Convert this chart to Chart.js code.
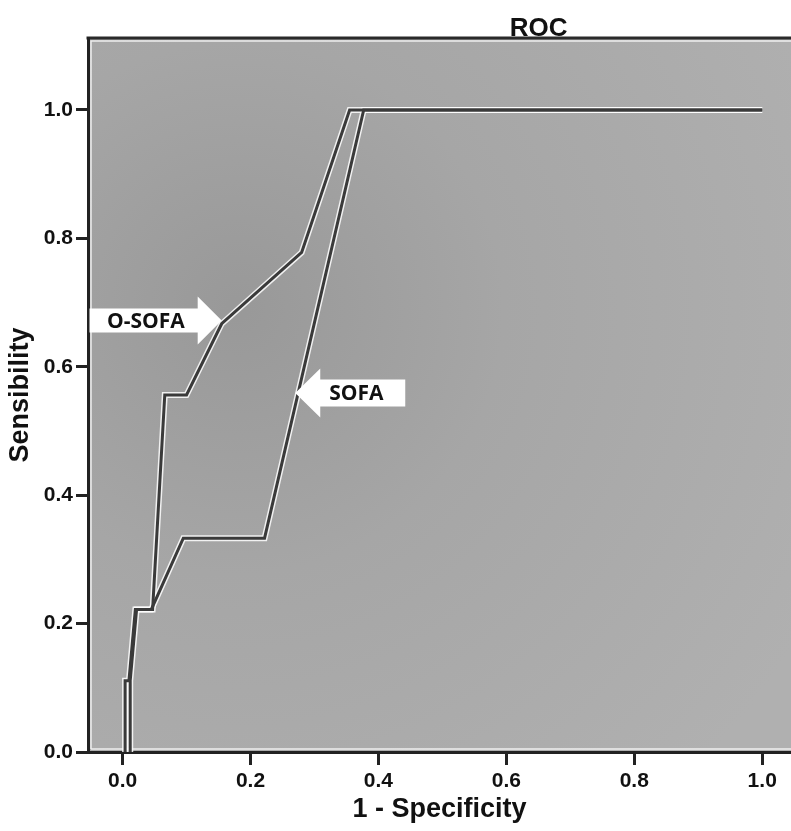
<!DOCTYPE html>
<html>
<head>
<meta charset="utf-8">
<title>ROC</title>
<script src="https://cdn.jsdelivr.net/npm/chart.js@4.4.1/dist/chart.umd.min.js"></script>
<style>
  html, body { margin: 0; padding: 0; background: #fff; overflow: hidden; }
  #roc { display: block; }
</style>
</head>
<body>
<canvas id="roc" width="791" height="831"></canvas>
<script>
// values
const osofaX = [0.004, 0.004, 0.010, 0.020, 0.047, 0.066, 0.100, 0.155, 0.280, 0.355, 1.0];
const osofaY = [0.000, 0.111, 0.111, 0.222, 0.222, 0.556, 0.556, 0.667, 0.778, 1.000, 1.0];
const sofaX  = [0.012, 0.012, 0.022, 0.045, 0.095, 0.222, 0.377, 1.0];
const sofaY  = [0.000, 0.111, 0.222, 0.222, 0.333, 0.333, 1.000, 1.0];

const xTicks = [0, 0.2, 0.4, 0.6, 0.8, 1.0];
const yTicks = [0, 0.2, 0.4, 0.6, 0.8, 1.0];

// arrow labels pointing at the curves
const arrowLabels = ["O-SOFA", "SOFA"];
const arrowX = [0.155, 0.270];
const arrowY = [0.672, 0.559];
const arrowDir = ["right", "left"];

const zip = (xs, ys) => xs.map((v, i) => ({ x: v, y: ys[i] }));

const tickFont = { family: "'Liberation Sans', Arial, sans-serif", size: 21, weight: "bold" };
const titleFont = { family: "'Liberation Sans', Arial, sans-serif", size: 27, weight: "bold" };

// gray shaded plot area + top frame line
const plotBackground = {
  id: "plotBackground",
  beforeDraw(chart) {
    const { ctx, chartArea: a } = chart;
    ctx.save();
    const cx = a.left + 150, cy = a.top + 270;
    const g = ctx.createRadialGradient(cx, cy, 10, cx, cy, 650);
    g.addColorStop(0, "#999999");
    g.addColorStop(0.4, "#a6a6a6");
    g.addColorStop(1, "#b0b0b0");
    ctx.fillStyle = g;
    ctx.fillRect(a.left, a.top, a.right - a.left, a.bottom - a.top);

    // thin light inner edge
    ctx.strokeStyle = "rgba(255,255,255,0.8)";
    ctx.lineWidth = 1.5;
    ctx.beginPath();
    ctx.moveTo(a.left + 3, a.bottom - 3);
    ctx.lineTo(a.left + 3, a.top + 3);
    ctx.lineTo(a.right, a.top + 3);
    ctx.moveTo(a.left + 3, a.bottom - 3);
    ctx.lineTo(a.right, a.bottom - 3);
    ctx.stroke();

    ctx.strokeStyle = "#2a2a2a";
    ctx.lineWidth = 3;
    ctx.beginPath();
    ctx.moveTo(a.left - 1.5, a.top);
    ctx.lineTo(a.right, a.top);
    ctx.stroke();

    // chart title
    ctx.fillStyle = "#111";
    ctx.font = "bold 26px 'Liberation Sans', Arial, sans-serif";
    ctx.textAlign = "center";
    ctx.textBaseline = "alphabetic";
    ctx.fillText("ROC", a.left + (a.right - a.left) * 0.641, a.top - 2);
    ctx.restore();
  }
};

const arrowNotes = {
  id: "arrowNotes",
  afterDatasetsDraw(chart) {
    const { ctx, chartArea: a, scales: { x, y } } = chart;
    ctx.save();
    arrowLabels.forEach((txt, i) => {
      const tx = x.getPixelForValue(arrowX[i]);
      const ty = y.getPixelForValue(arrowY[i]);
      ctx.fillStyle = "#fff";
      ctx.beginPath();
      if (arrowDir[i] === "right") {
        const head = 24, bodyH = 12, headH = 24;
        const bx = tx - head;
        ctx.moveTo(tx, ty);
        ctx.lineTo(bx, ty - headH);
        ctx.lineTo(bx, ty - bodyH);
        ctx.lineTo(a.left + 1.5, ty - bodyH);
        ctx.lineTo(a.left + 1.5, ty + bodyH);
        ctx.lineTo(bx, ty + bodyH);
        ctx.lineTo(bx, ty + headH);
        ctx.closePath();
        ctx.fill();
        ctx.fillStyle = "#111";
        ctx.font = "bold 21px 'Open Sans', sans-serif";
        ctx.textAlign = "left";
        ctx.textBaseline = "middle";
        ctx.fillText(txt, a.left + 19, ty + 1);
      } else {
        const head = 25, bodyH = 13.5, headH = 24.5, body = 85;
        const bx = tx + head;
        ctx.moveTo(tx, ty);
        ctx.lineTo(bx, ty - headH);
        ctx.lineTo(bx, ty - bodyH);
        ctx.lineTo(bx + body, ty - bodyH);
        ctx.lineTo(bx + body, ty + bodyH);
        ctx.lineTo(bx, ty + bodyH);
        ctx.lineTo(bx, ty + headH);
        ctx.closePath();
        ctx.fill();
        ctx.fillStyle = "#111";
        ctx.font = "bold 21px 'Open Sans', sans-serif";
        ctx.textAlign = "left";
        ctx.textBaseline = "middle";
        ctx.fillText(txt, bx + 9, ty + 1);
      }
    });
    ctx.restore();
  }
};

const lineStyle = (data, color, width, order) => ({
  data: data,
  borderColor: color,
  borderWidth: width,
  pointRadius: 0,
  tension: 0,
  fill: false,
  borderJoinStyle: "miter",
  borderCapStyle: "butt",
  order: order
});

new Chart(document.getElementById("roc"), {
  type: "line",
  data: {
    datasets: [
      Object.assign(lineStyle(zip(osofaX, osofaY), "#3a3a3a", 3, 1), { label: "O-SOFA" }),
      Object.assign(lineStyle(zip(sofaX, sofaY), "#3a3a3a", 3, 1), { label: "SOFA" }),
      Object.assign(lineStyle(zip(osofaX, osofaY), "rgba(255,255,255,0.85)", 6, 2), { label: "halo1" }),
      Object.assign(lineStyle(zip(sofaX, sofaY), "rgba(255,255,255,0.85)", 6, 2), { label: "halo2" })
    ]
  },
  options: {
    responsive: false,
    animation: false,
    layout: { padding: { top: 38, right: 0, bottom: 0, left: 0 } },
    plugins: {
      legend: { display: false },
      tooltip: { enabled: false },
      title: { display: false }
    },
    scales: {
      x: {
        type: "linear",
        min: -0.054,
        max: 1.045,
        afterBuildTicks: s => { s.ticks = xTicks.map(v => ({ value: v })); },
        afterFit: s => { s.height = 79; },
        border: { display: true, color: "#222", width: 3 },
        grid: { drawOnChartArea: false, drawTicks: true, tickLength: 13, tickWidth: 3, tickColor: "#222" },
        ticks: { color: "#111", font: tickFont, padding: 4, maxRotation: 0, callback: v => Number(v).toFixed(1) },
        title: { display: true, text: "1 - Specificity", color: "#111", font: titleFont, padding: { top: 0, bottom: 5 } }
      },
      y: {
        type: "linear",
        min: 0,
        max: 1.112,
        afterBuildTicks: s => { s.ticks = yTicks.map(v => ({ value: v })); },
        afterFit: s => { s.width = 88; },
        border: { display: true, color: "#222", width: 3 },
        grid: { drawOnChartArea: false, drawTicks: true, tickLength: 12, tickWidth: 3, tickColor: "#222" },
        ticks: { color: "#111", font: tickFont, padding: 3, callback: v => Number(v).toFixed(1) },
        title: { display: true, text: "Sensibility", color: "#111", font: titleFont, padding: { top: 4, bottom: 0 } }
      }
    }
  },
  plugins: [plotBackground, arrowNotes]
});
</script>
</body>
</html>
